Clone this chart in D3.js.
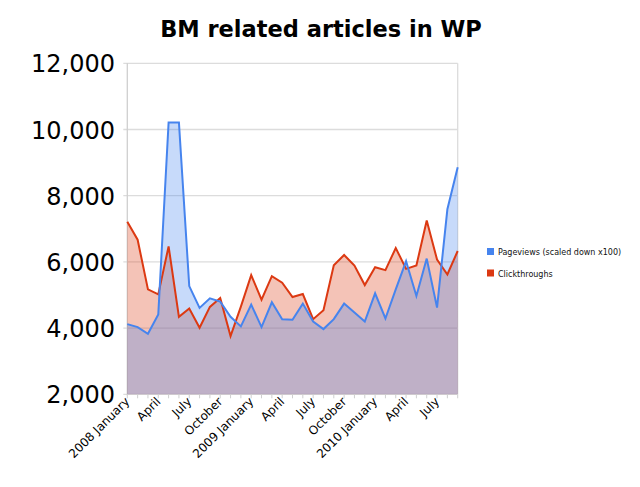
<!DOCTYPE html>
<html><head><meta charset="utf-8">
<script src="https://cdn.jsdelivr.net/npm/d3@7"></script>
<style>body{margin:0;background:#fff}svg{display:block}</style>
</head><body>
<script>
const months = ["2008-01","2008-02","2008-03","2008-04","2008-05","2008-06","2008-07","2008-08","2008-09","2008-10","2008-11","2008-12",
"2009-01","2009-02","2009-03","2009-04","2009-05","2009-06","2009-07","2009-08","2009-09","2009-10","2009-11","2009-12",
"2010-01","2010-02","2010-03","2010-04","2010-05","2010-06","2010-07","2010-08","2010-09"];
const pageviews = [4120,4030,3830,4410,10210,10210,5270,4610,4900,4800,4340,4050,
4710,4030,4780,4270,4250,4740,4200,3970,4270,4740,4470,4200,
5050,4290,5170,6020,4970,6100,4620,7590,8860];
const clickthroughs = [7210,6670,5170,5020,6470,4340,4590,4010,4640,4910,3760,4650,
5600,4860,5570,5370,4940,5030,4270,4540,5900,6210,5890,5300,
5840,5750,6420,5790,5890,7250,6070,5620,6330];
const tickLabels = ["2008 January","April","July","October","2009 January","April","July","October","2010 January","April","July"];
const yTicks = [2000,4000,6000,8000,10000,12000];
const seriesNames = ["Pageviews (scaled down x100)","Clickthroughs"];
const colors = ["#4684ee","#dc3912"];

const W=640,H=487;
const svg=d3.select("body").append("svg").attr("width",W).attr("height",H);
const L=127.3,R=457.7,T=63.3,B=394.3;
const x=d3.scaleLinear().domain([0,months.length-1]).range([L,R]);
const y=d3.scaleLinear().domain([2000,12000]).range([B,T]);

svg.append("text").attr("x",321).attr("y",37).attr("text-anchor","middle")
  .attr("font-family","DejaVu Sans").attr("font-weight","bold").attr("font-size",22.5)
  .text("BM related articles in WP");

// gridlines
svg.append("g").selectAll("line").data(yTicks).join("line")
  .attr("x1",L-4).attr("x2",R).attr("y1",d=>y(d)).attr("y2",d=>y(d))
  .attr("stroke","#dcdcdc").attr("stroke-width",1.3);
svg.append("line").attr("x1",R).attr("x2",R).attr("y1",T).attr("y2",B).attr("stroke","#dcdcdc").attr("stroke-width",1.3);
svg.append("line").attr("x1",L).attr("x2",L).attr("y1",T).attr("y2",B+1).attr("stroke","#cfcfcf").attr("stroke-width",1.3);

// y labels
svg.append("g").selectAll("text").data(yTicks).join("text")
  .attr("x",115).attr("y",d=>y(d)+9).attr("text-anchor","end")
  .attr("font-family","DejaVu Sans").attr("font-size",24).attr("fill","#000")
  .text(d=>d3.format(",")(d));

const areaGen=vals=>d3.area().x((d,i)=>x(i)).y0(y(2000)).y1(d=>y(d))(vals);
const lineGen=vals=>d3.line().x((d,i)=>x(i)).y(d=>y(d))(vals);

svg.append("path").attr("d",areaGen(clickthroughs)).attr("fill",colors[1]).attr("fill-opacity",0.3);
svg.append("path").attr("d",areaGen(pageviews)).attr("fill",colors[0]).attr("fill-opacity",0.3);
svg.append("path").attr("d",lineGen(clickthroughs)).attr("fill","none").attr("stroke",colors[1]).attr("stroke-width",2);
svg.append("path").attr("d",lineGen(pageviews)).attr("fill","none").attr("stroke",colors[0]).attr("stroke-width",2);

// x ticks
svg.append("g").selectAll("line").data(months).join("line")
  .attr("x1",(d,i)=>x(i)).attr("x2",(d,i)=>x(i)).attr("y1",B).attr("y2",B+4)
  .attr("stroke","#cfcfcf").attr("stroke-width",1);
svg.append("g").selectAll("text").data(tickLabels).join("text")
  .attr("transform",(d,i)=>`translate(${x(i*3)+3},${B+8}) rotate(-45)`)
  .attr("text-anchor","end").attr("font-family","DejaVu Sans").attr("font-size",12)
  .text(d=>d);

// legend
const lg=svg.append("g").selectAll("g").data(seriesNames).join("g")
  .attr("transform",(d,i)=>`translate(487,${248+i*21.5})`);
lg.append("rect").attr("width",7).attr("height",7).attr("fill",(d,i)=>colors[i]);
lg.append("text").attr("x",11).attr("y",7).attr("font-family","DejaVu Sans").attr("font-size",8)
  .attr("fill","#111").text(d=>d);
</script>
</body></html>
